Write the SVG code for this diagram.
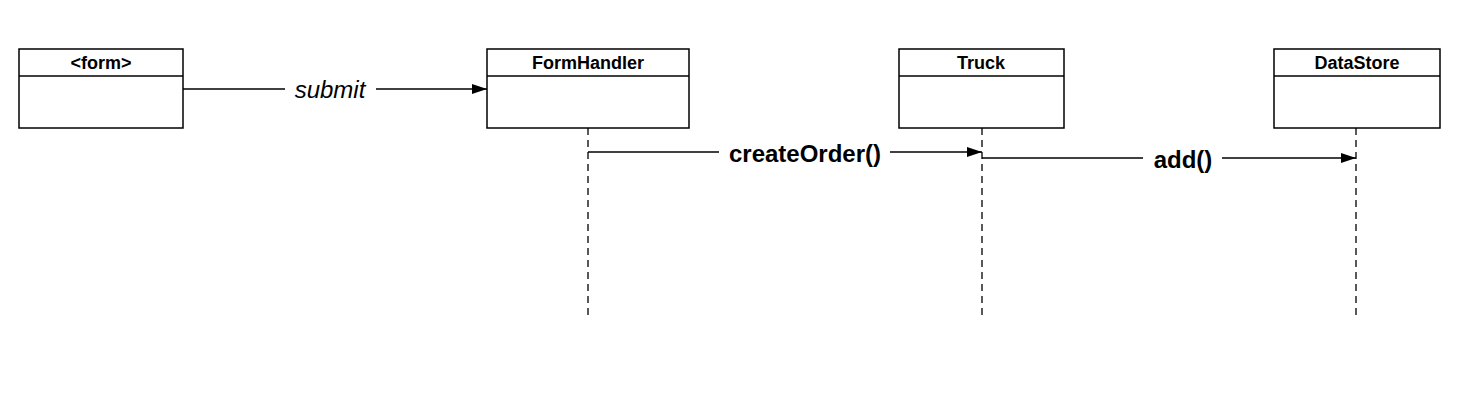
<svg xmlns="http://www.w3.org/2000/svg" width="1471" height="405" viewBox="0 0 1471 405">
<style>
.box{fill:#fff;stroke:#000;stroke-width:1.5}
.hdr{font-family:"Liberation Sans",Arial,sans-serif;font-weight:bold;font-size:18px;text-anchor:middle}
.life{stroke:#000;stroke-width:1.3;stroke-dasharray:7 5;fill:none}
.msg{stroke:#000;stroke-width:1.3;fill:none}
.lbl{font-family:"Liberation Sans",Arial,sans-serif;font-size:24px;text-anchor:middle}
</style>
<defs>
<marker id="ah" markerWidth="15" markerHeight="10" refX="15" refY="5" orient="auto" markerUnits="userSpaceOnUse">
<path d="M0,0 L15,5 L0,10 Z" fill="#000"/>
</marker>
</defs>
<g id="connectors">
<line class="life" x1="588" y1="128" x2="588" y2="318"/>
<line class="life" x1="982" y1="128" x2="982" y2="318"/>
<line class="life" x1="1356" y1="128" x2="1356" y2="318"/>
<line class="msg" x1="183" y1="89" x2="285" y2="89"/>
<line class="msg" x1="376" y1="89" x2="487" y2="89" marker-end="url(#ah)"/>
<text class="lbl" x="330" y="98" font-style="italic">submit</text>
<line class="msg" x1="588" y1="152" x2="719" y2="152"/>
<line class="msg" x1="890" y1="152" x2="982" y2="152" marker-end="url(#ah)"/>
<text class="lbl" x="805" y="162" font-weight="bold">createOrder()</text>
<line class="msg" x1="982" y1="158" x2="1143" y2="158"/>
<line class="msg" x1="1222" y1="158" x2="1356" y2="158" marker-end="url(#ah)"/>
<text class="lbl" x="1183" y="168" font-weight="bold">add()</text>
</g>
<g id="form">
<rect class="box" x="19" y="49" width="164" height="79"/>
<line class="msg" x1="19" y1="76" x2="183" y2="76" stroke-width="1.5"/>
<text class="hdr" x="101" y="69">&lt;form&gt;</text>
</g>
<g id="formhandler">
<rect class="box" x="487" y="49" width="202" height="79"/>
<line class="msg" x1="487" y1="76" x2="689" y2="76" stroke-width="1.5"/>
<text class="hdr" x="588" y="69">FormHandler</text>
</g>
<g id="truck">
<rect class="box" x="899" y="49" width="165" height="79"/>
<line class="msg" x1="899" y1="76" x2="1064" y2="76" stroke-width="1.5"/>
<text class="hdr" x="981" y="69">Truck</text>
</g>
<g id="datastore">
<rect class="box" x="1274" y="49" width="166" height="79"/>
<line class="msg" x1="1274" y1="76" x2="1440" y2="76" stroke-width="1.5"/>
<text class="hdr" x="1357" y="69">DataStore</text>
</g>
</svg>
